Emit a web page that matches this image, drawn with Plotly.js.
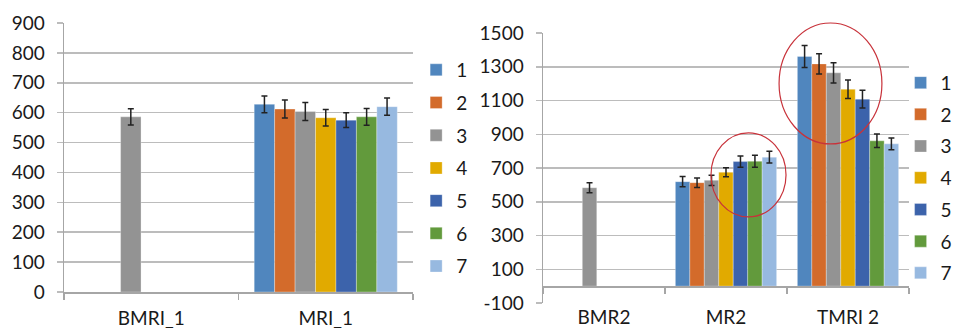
<!DOCTYPE html>
<html><head><meta charset="utf-8">
<script src="https://cdn.plot.ly/plotly-3.0.1.min.js"></script>
<style>
html,body{margin:0;padding:0;background:#fff;overflow:hidden;width:957px;height:328px;}
#wrap{position:relative;width:957px;height:328px;overflow:hidden;}
#c1{position:absolute;left:0;top:0;width:500px;height:328px;}
#c2{position:absolute;left:480px;top:0;width:540px;height:328px;}
</style></head><body>
<div id="wrap"><div id="c1"></div><div id="c2"></div></div>
<script>
// ---- data ----
const seriesNames = ['1','2','3','4','5','6','7'];
const colors = ['#5086be','#d36b2b','#939393','#e1aa00','#3c63ab','#629a3c','#97b9e0'];

const cats1 = ['BMRI_1','MRI_1'];
const bmri1 = [null,null,586,null,null,null,null];
const bmri1Err = [0,0,27,0,0,0,0];
const mri1 = [628,612,604,583,575,586,620];
const mri1Err = [28,30,30,28,25,28,29];
const yTicks1 = [0,100,200,300,400,500,600,700,800,900];

const cats2 = ['BMR2','MR2','TMRI 2'];
const bmr2 = [null,null,583,null,null,null,null];
const bmr2Err = [0,0,30,0,0,0,0];
const mr2 = [619,613,627,675,738,740,764];
const mr2Err = [30,28,30,27,33,35,35];
const tmri2 = [1361,1317,1264,1167,1108,861,843];
const tmri2Err = [65,60,60,55,53,40,35];
const yTicks2 = [-100,100,300,500,700,900,1100,1300,1500];

const FONT = 'Lato, "Open Sans", sans-serif';
const FS = 19;
const TXT = '#1a1a1a';
const GRID = '#bcbcbc';
const AX = '#a6a6a6';

function makeTraces(cats, groups, errs){
  return seriesNames.map((name,i)=>({
    type:'bar', name:name, x:cats,
    y:groups.map(g=>g[i]),
    marker:{color:colors[i], line:{color:'rgba(255,255,255,0.6)', width:0.5}},
    error_y:{type:'data', array:errs.map(e=>e[i]), visible:true, color:'#222', thickness:1.5, width:3},
    legendgroup:'g'+i
  }));
}

const t1 = makeTraces(cats1,[bmri1,mri1],[bmri1Err,mri1Err]);
const l1 = {
  width:500, height:328, margin:{l:64,r:87,t:23,b:36},
  paper_bgcolor:'rgba(255,255,255,0)', plot_bgcolor:'rgba(255,255,255,0)',
  barmode:'group', bargap:0.18, bargroupgap:0,
  font:{family:FONT, size:FS, color:TXT},
  xaxis:{type:'category', tickson:'boundaries', ticks:'outside', ticklen:6, tickcolor:AX, tickwidth:1.5,
         showline:true, linecolor:AX, linewidth:1.5, showgrid:false, ticklabelstandoff:9,
         tickfont:{family:FONT,size:FS,color:TXT}},
  yaxis:{range:[0,900], tickmode:'array', tickvals:yTicks1, ticktext:yTicks1.map(String),
         showgrid:true, gridcolor:GRID, gridwidth:1.5,
         showline:true, linecolor:AX, linewidth:1.5, ticks:'outside', ticklen:6, tickcolor:GRID, tickwidth:1.5,
         zeroline:false, tickfont:{family:FONT,size:FS,color:TXT}, ticklabelstandoff:8},
  legend:{x:1.009, xanchor:'left', y:0.896, yanchor:'top', tracegroupgap:5, font:{family:FONT,size:FS,color:TXT}, bgcolor:'rgba(0,0,0,0)'},
  showlegend:true
};
Plotly.newPlot('c1', t1, l1, {staticPlot:true, displayModeBar:false});

const t2 = makeTraces(cats2,[bmr2,mr2,tmri2],[bmr2Err,mr2Err,tmri2Err]);
const l2 = {
  width:540, height:328, margin:{l:63,r:111,t:33,b:25},
  paper_bgcolor:'#fff', plot_bgcolor:'#fff',
  barmode:'group', bargap:0.17, bargroupgap:0,
  font:{family:FONT, size:FS, color:TXT},
  xaxis:{type:'category', tickson:'boundaries', ticks:'outside', ticklen:6, tickcolor:AX, tickwidth:1.5,
         showline:true, linecolor:AX, linewidth:1.5, showgrid:false,
         anchor:'free', position:0.0625, ticklabelstandoff:14,
         tickfont:{family:FONT,size:FS,color:TXT}},
  yaxis:{range:[-100,1500], tickmode:'array', tickvals:yTicks2, ticktext:yTicks2.map(String),
         showgrid:true, gridcolor:GRID, gridwidth:1.5,
         showline:true, linecolor:AX, linewidth:1.5, ticks:'outside', ticklen:6, tickcolor:GRID, tickwidth:1.5,
         zeroline:false, tickfont:{family:FONT,size:FS,color:TXT}, ticklabelstandoff:8},
  legend:{x:0.977, xanchor:'left', y:0.886, yanchor:'top', tracegroupgap:4, font:{family:FONT,size:FS,color:TXT}, bgcolor:'rgba(0,0,0,0)'},
  shapes:[
    {type:'circle', xref:'paper', yref:'paper', x0:0.645, x1:0.926, y0:0.589, y1:1.037, line:{color:'#c8323a', width:1.2}},
    {type:'circle', xref:'paper', yref:'paper', x0:0.459, x1:0.664, y0:0.319, y1:0.630, line:{color:'#c8323a', width:1.2}}
  ],
  showlegend:true
};
Plotly.newPlot('c2', t2, l2, {staticPlot:true, displayModeBar:false});
</script>
</body></html>
